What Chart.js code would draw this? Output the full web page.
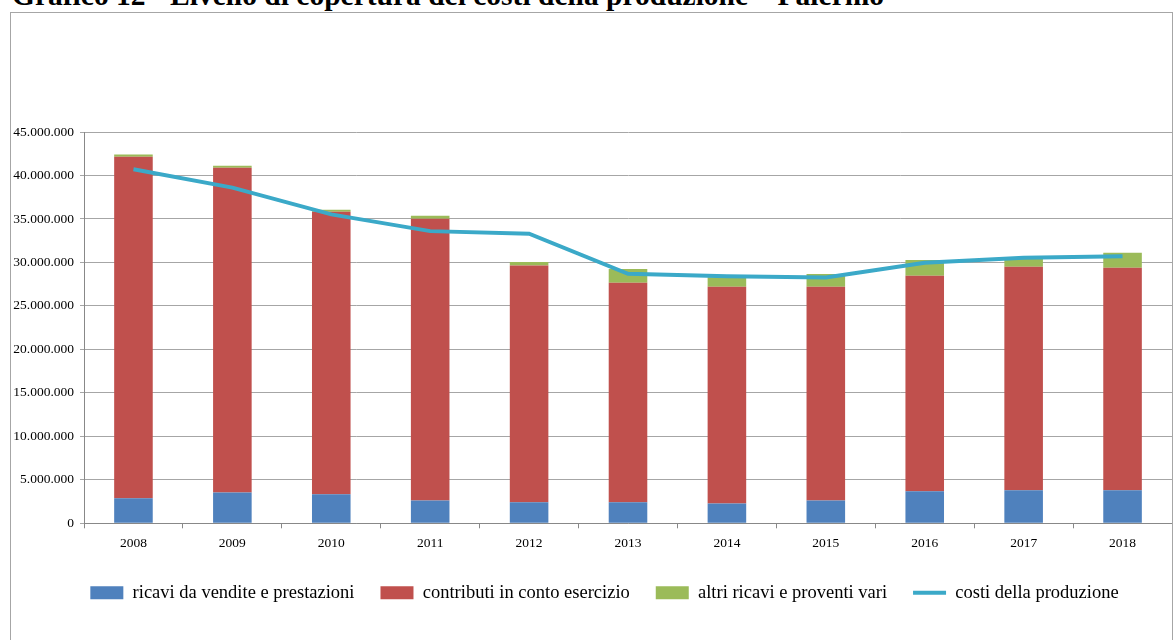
<!DOCTYPE html>
<html>
<head>
<meta charset="utf-8">
<script src="https://cdn.jsdelivr.net/npm/chart.js@4/dist/chart.umd.min.js"></script>
<style>
  html, body { margin: 0; padding: 0; background: #fff; overflow: hidden; }
  .titolo {
    position: absolute; left: 12px; top: -21px; margin: 0; line-height: 1;
    font: bold 29.5px "Liberation Serif", serif; color: #000; white-space: nowrap;
  }
  .box {
    position: absolute; left: 10px; top: 12px; width: 1161px; height: 640px;
    border: 1px solid #a6a6a6; border-bottom: none;
  }
</style>
</head>
<body>
<h2 class="titolo">Grafico 12 - Livello di copertura dei costi della produzione – Palermo</h2>
<div class="box"><canvas id="grafico"></canvas></div>
<script>
const anni = ['2008', '2009', '2010', '2011', '2012', '2013', '2014', '2015', '2016', '2017', '2018'];
const ricavi = [2880000, 3530000, 3340000, 2610000, 2420000, 2420000, 2270000, 2610000, 3680000, 3800000, 3800000];
const contributi = [39280000, 37370000, 32490000, 32420000, 27240000, 25240000, 24930000, 24590000, 24790000, 25700000, 25590000];
const altriRicavi = [240000, 230000, 230000, 340000, 380000, 1580000, 1110000, 1460000, 1800000, 1100000, 1720000];
const costi = [40710000, 38600000, 35530000, 33600000, 33300000, 28700000, 28400000, 28280000, 29960000, 30540000, 30700000];

const SERIF = '"Liberation Serif", "Times New Roman", serif';

// 45.000.000 style thousands separators
function migliaia(v) {
  return String(Math.round(v)).replace(/\B(?=(\d{3})+(?!\d))/g, '.');
}

// legend sits a little right of centre
const spostaLegenda = {
  id: 'spostaLegenda',
  afterLayout(chart) {
    chart.legend.left += 26;
  },
};

const canvas = document.getElementById('grafico');
canvas.width = 1161;
canvas.height = 627;

new Chart(canvas, {
  type: 'bar',
  data: {
    labels: anni,
    datasets: [
      { label: 'ricavi da vendite e prestazioni', data: ricavi, backgroundColor: '#4f81bd', order: 1 },
      { label: 'contributi in conto esercizio', data: contributi, backgroundColor: '#c0504d', order: 1 },
      { label: 'altri ricavi e proventi vari', data: altriRicavi, backgroundColor: '#9bbb59', order: 1 },
      {
        type: 'line',
        label: 'costi della produzione',
        data: costi,
        stack: 'costi',
        borderColor: '#3ba9c8',
        backgroundColor: '#3ba9c8',
        borderWidth: 4,
        pointRadius: 0,
        tension: 0,
        order: 0,
      },
    ],
  },
  plugins: [spostaLegenda],
  options: {
    responsive: false,
    animation: false,
    layout: { padding: { top: 119, right: 0, left: 0, bottom: 28 } },
    datasets: {
      bar: { barPercentage: 0.39, categoryPercentage: 1 },
    },
    plugins: {
      tooltip: { enabled: false },
      legend: {
        position: 'bottom',
        labels: {
          usePointStyle: true,
          pointStyleWidth: 33,
          boxHeight: 13,
          padding: 26,
          color: '#000',
          font: { family: SERIF, size: 18.5 },
          sort: (a, b) => a.datasetIndex - b.datasetIndex,
          generateLabels(chart) {
            const items = Chart.defaults.plugins.legend.labels.generateLabels(chart);
            items.forEach((it) => {
              it.pointStyle = it.datasetIndex === 3 ? 'line' : 'rect';
            });
            return items;
          },
        },
      },
    },
    scales: {
      x: {
        stacked: true,
        afterFit: (s) => { s.height -= 1; },
        grid: { display: true, drawOnChartArea: false, offset: true, tickLength: 5, color: '#888' },
        border: { color: '#888' },
        ticks: { color: '#000', font: { family: SERIF, size: 13.5 }, padding: 7 },
      },
      y: {
        stacked: true,
        min: 0,
        max: 45000000,
        afterFit: (s) => { s.width = 73; },
        grid: { color: '#a6a6a6', tickLength: 4 },
        border: { color: '#888' },
        ticks: {
          stepSize: 5000000,
          color: '#000',
          padding: 6,
          font: { family: SERIF, size: 13.5 },
          callback: (v) => migliaia(v),
        },
      },
    },
  },
});
</script>
</body>
</html>
